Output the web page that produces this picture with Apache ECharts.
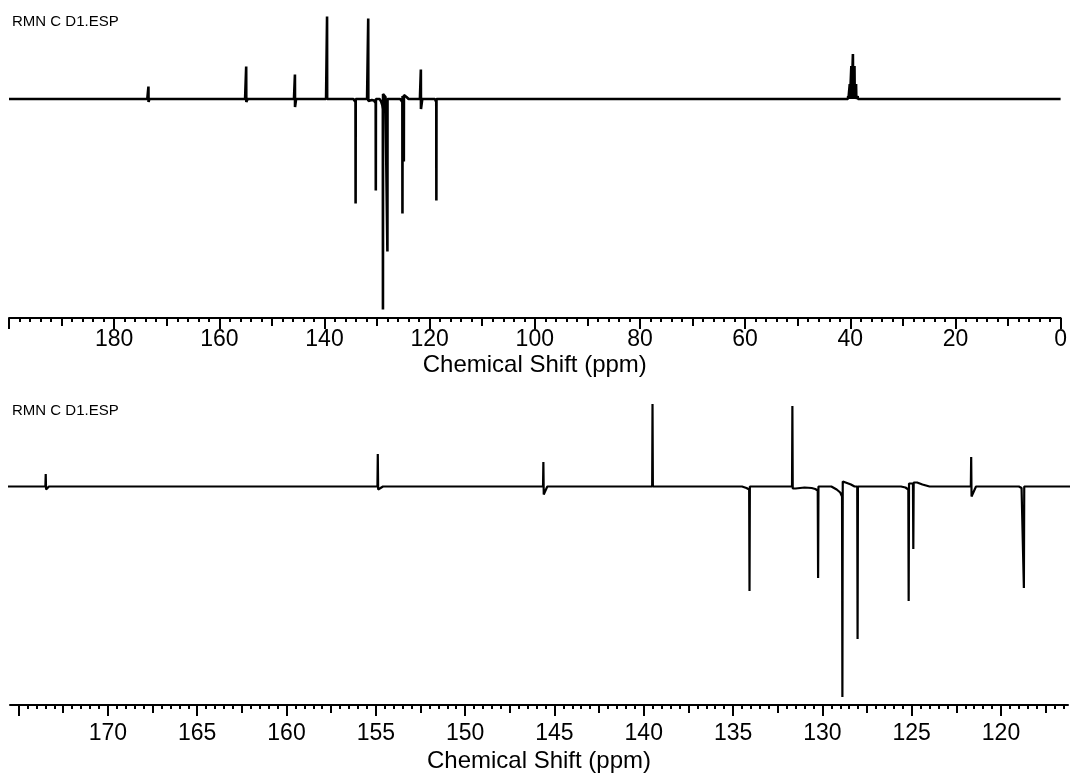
<!DOCTYPE html>
<html>
<head>
<meta charset="utf-8">
<title>RMN C D1.ESP</title>
<script src="https://cdn.jsdelivr.net/npm/echarts@6/dist/echarts.min.js"></script>
<style>
  html, body { margin: 0; padding: 0; background: #fff; }
  #main { width: 1070px; height: 774px; }
</style>
</head>
<body>
<div id="main"></div>
<script>
// 13C (DEPT-like) spectrum, file RMN C D1.ESP
// lines: position (ppm) and height (baseline = 0)
var lineShift  = [173.48, 154.89, 145.62, 139.51, 134.08, 131.68, 130.24, 128.88, 128.03, 125.17, 124.91, 121.67, 118.72];
var lineHeight = [12.5, 32.5, 24.5, 82.5, -104.5, 80.5, -91.5, -210.5, -152.5, -114.5, -62.5, 29.5, -101.5];
// trace just downfield / upfield of each line (phase wiggles)
var lineLead = [0, 0, 0, 0, -3, 0, -4, -10, 0, -3, 3, 0, -3];
var lineTail = [-3, -3, -8, 0, 0, -2, 0, 5, 0, 3, 4, -10, 0];

// DMSO-d6 septet
var solventShift  = [40.4, 40.1, 39.8, 39.5, 39.2, 38.9, 38.6];
var solventHeight = [3, 15, 33, 45, 33, 15, 3];

// baseline knots [ppm, value]
var baseKnots = [
  [200, 0], [173.7, 0], [173.3, 0], [155.1, 0], [154.6, 0], [145.8, 0], [145.4, 0],
  [139.7, 0], [139.3, 0], [134.5, 0], [134.25, -1.5], [133.9, 0],
  [131.9, 0], [131.5, -2], [131.0, -1], [130.6, -1.5], [130.4, -2.5], [130.05, 0],
  [129.5, 0], [129.2, -3], [129.0, -6], [128.7, 4], [128.4, 2], [128.2, 0], [127.85, 0],
  [125.6, 0], [125.35, -1], [124.7, 4], [124.4, 2], [124.0, 0],
  [121.85, 0], [121.4, 0], [119.0, 0], [118.85, -1.5], [118.5, 0],
  [41, 0], [38, 0], [0, 0]
];

// axis ticks
var topTicks = [200, 180, 160, 140, 120, 100, 80, 60, 40, 20, 0];
var topLabels = [180, 160, 140, 120, 100, 80, 60, 40, 20, 0];
var topMidTicks = [190, 170, 150, 130, 110, 90, 70, 50, 30, 10];
var zoomTicks = [175, 170, 165, 160, 155, 150, 145, 140, 135, 130, 125, 120];
var zoomLabels = [170, 165, 160, 155, 150, 145, 140, 135, 130, 125, 120];
var zoomMidTicks = [172.5, 167.5, 162.5, 157.5, 152.5, 147.5, 142.5, 137.5, 132.5, 127.5, 122.5, 117.5];

var spectrum = baseKnots.slice();
for (var i = 0; i < lineShift.length; i++) {
    spectrum.push([lineShift[i] + 0.02, lineLead[i]]);
    spectrum.push([lineShift[i], lineHeight[i]]);
    spectrum.push([lineShift[i] - 0.02, lineTail[i]]);
}
for (var i = 0; i < solventShift.length; i++) {
    spectrum.push([solventShift[i] + 0.05, 0]);
    spectrum.push([solventShift[i], solventHeight[i]]);
    spectrum.push([solventShift[i] - 0.05, 0]);
}
spectrum.sort(function (a, b) { return b[0] - a[0]; });

var FONT = 'Liberation Sans, Arial, sans-serif';

function mainAxis(grid, min, max, ticks, labels, margin, gap, extra) {
    var ax = {
        type: 'value', gridIndex: grid, position: 'bottom', inverse: true,
        min: min, max: max,
        name: 'Chemical Shift (ppm)', nameLocation: 'middle', nameGap: gap,
        nameTextStyle: { color: '#000', fontSize: 24, fontFamily: FONT },
        axisLine: { onZero: false, lineStyle: { color: '#000', width: 2 } },
        axisTick: { customValues: ticks, length: 11, lineStyle: { color: '#000', width: 2 } },
        minorTick: { show: true, splitNumber: 10, length: 4, lineStyle: { color: '#000', width: 2 } },
        axisLabel: { customValues: labels, margin: margin, color: '#000', fontSize: 23, fontFamily: FONT },
        splitLine: { show: false }
    };
    for (var k in extra) ax[k] = extra[k];
    return ax;
}
function midAxis(grid, min, max, ticks) {
    return {
        type: 'value', gridIndex: grid, position: 'bottom', inverse: true,
        min: min, max: max,
        axisLine: { show: false, onZero: false },
        axisTick: { customValues: ticks, length: 8, lineStyle: { color: '#000', width: 2 } },
        axisLabel: { show: false },
        splitLine: { show: false }
    };
}

var chart = echarts.init(document.getElementById('main'), null, { renderer: 'canvas' });
chart.setOption({
    animation: false,
    backgroundColor: '#fff',
    title: [
        { text: 'RMN C D1.ESP', left: 12, top: 14, padding: 0,
          textStyle: { color: '#000', fontSize: 15, fontWeight: 'normal', fontFamily: FONT } },
        { text: 'RMN C D1.ESP', left: 12, top: 403, padding: 0,
          textStyle: { color: '#000', fontSize: 15, fontWeight: 'normal', fontFamily: FONT } }
    ],
    grid: [
        { left: 9, right: 8, top: 0, height: 318 },
        { left: 10, right: 2, top: 390, height: 315 }
    ],
    xAxis: [
        mainAxis(0, 0, 200, topTicks, topLabels, 10, 35, { interval: 20 }),
        midAxis(0, 0, 200, topMidTicks),
        mainAxis(1, 116.25, 175.48, zoomTicks, zoomLabels, 17, 44, { minInterval: 5, maxInterval: 5, splitNumber: 12 }),
        midAxis(1, 116.25, 175.48, zoomMidTicks)
    ],
    yAxis: [
        { type: 'value', gridIndex: 0, show: false, min: -219, max: 99 },
        { type: 'value', gridIndex: 1, show: false, min: -218.5, max: 96.5 }
    ],
    series: [
        { type: 'line', xAxisIndex: 0, yAxisIndex: 0, data: spectrum, showSymbol: false,
          lineStyle: { color: '#000', width: 2.6 }, clip: true },
        { type: 'line', xAxisIndex: 2, yAxisIndex: 1, data: spectrum, showSymbol: false,
          lineStyle: { color: '#000', width: 2.2 }, clip: true }
    ]
});
</script>
</body>
</html>
